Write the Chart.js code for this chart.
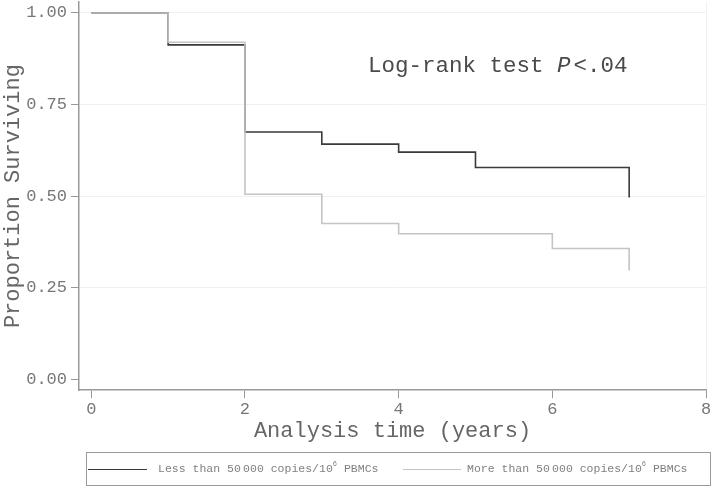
<!DOCTYPE html>
<html>
<head>
<meta charset="utf-8">
<script src="https://cdn.jsdelivr.net/npm/chart.js@4"></script>
<style>
  html, body { margin: 0; padding: 0; background: #fff; }
  #wrap { position: relative; width: 720px; height: 489px; }
  #legend {
    position: absolute; left: 86px; top: 452px; width: 623px; height: 32px;
    border: 1.5px solid #9a9a9a; font-family: "Liberation Mono", monospace;
    font-size: 11.5px; color: #808080;
  }
  .sw { position: absolute; top: 16px; height: 0; }
  .lb { position: absolute; top: 9px; white-space: nowrap; }
  .lb sup { font-size: 7px; vertical-align: 6px; line-height: 0; }
</style>
</head>
<body>
<div id="wrap">
  <canvas id="km" width="720" height="489"></canvas>
  <div id="legend"></div>
</div>
<script>
// Kaplan-Meier steps
var lowTimes  = [0, 1, 2, 3, 4, 5, 7];
var lowSurv   = [1.0, 0.913, 0.675, 0.642, 0.620, 0.578, 0.496];
var highTimes = [0, 1, 2, 3, 4, 6, 7];
var highSurv  = [1.0, 0.920, 0.505, 0.425, 0.397, 0.357, 0.297];

var seriesNames  = ["Less than 50\u2009000 copies/10<sup>6</sup> PBMCs", "More than 50\u2009000 copies/10<sup>6</sup> PBMCs"];
var seriesColors = ["#3a3a3a", "#c4c4c4"];

var xTicks = [0, 2, 4, 6, 8];
var yTicks = [0, 0.25, 0.5, 0.75, 1.0];

var annotation = { x: 3.6, y: 0.855, pre: "Log-rank test ", it: "P", post: "<.04" };

var mono = "'Liberation Mono', 'Courier New', monospace";

function pts(t, s) {
  return t.map(function(v, i) { return { x: v, y: s[i] }; });
}

// legend (html)
var leg = document.getElementById("legend");
var legPos = [{ line: [1, 60], text: 71 }, { line: [316, 374], text: 380 }];
seriesNames.forEach(function(name, i) {
  var sw = document.createElement("div");
  sw.className = "sw";
  sw.style.left = legPos[i].line[0] + "px";
  sw.style.width = (legPos[i].line[1] - legPos[i].line[0]) + "px";
  sw.style.borderTop = "1.6px solid " + seriesColors[i];
  leg.appendChild(sw);
  var lb = document.createElement("div");
  lb.className = "lb";
  lb.style.left = legPos[i].text + "px";
  lb.innerHTML = name;
  leg.appendChild(lb);
});

var notePlugin = {
  id: "note",
  afterDatasetsDraw: function(chart) {
    var c = chart.ctx, xs = chart.scales.x, ys = chart.scales.y;
    var x = xs.getPixelForValue(annotation.x), y = ys.getPixelForValue(annotation.y);
    c.save();
    c.fillStyle = "#4a4a4a";
    c.textBaseline = "middle";
    c.font = "22.5px " + mono;
    c.fillText(annotation.pre, x, y);
    x += c.measureText(annotation.pre).width;
    c.font = "italic 22.5px " + mono;
    c.fillText(annotation.it, x, y);
    x += c.measureText(annotation.it).width + 3;
    c.font = "22.5px " + mono;
    c.fillText(annotation.post, x, y);
    c.restore();
  }
};

new Chart(document.getElementById("km").getContext("2d"), {
  type: "line",
  data: {
    datasets: [{
      label: "Less than 50 000 copies/10^6 PBMCs",
      data: pts(lowTimes, lowSurv),
      borderColor: seriesColors[0],
      borderWidth: 1.6,
      stepped: "before",
      pointRadius: 0,
      fill: false,
      order: 2
    }, {
      label: "More than 50 000 copies/10^6 PBMCs",
      data: pts(highTimes, highSurv),
      borderColor: seriesColors[1],
      borderWidth: 1.6,
      stepped: "before",
      pointRadius: 0,
      fill: false,
      order: 1
    }]
  },
  options: {
    responsive: false,
    animation: false,
    layout: { padding: { left: 0, right: 14, top: 2, bottom: 39 } },
    plugins: { legend: { display: false }, tooltip: { enabled: false } },
    scales: {
      x: {
        type: "linear",
        min: -0.16, max: 8,
        afterBuildTicks: function(s) { s.ticks = xTicks.map(function(v) { return { value: v }; }); },
        border: { color: "#999", width: 1.5 },
        grid: {
          color: function(ctx) { return ctx.tick && ctx.tick.value === 8 ? "#f0f0f0" : "rgba(0,0,0,0)"; },
          tickColor: "#999", tickLength: 8, lineWidth: 1
        },
        ticks: { color: "#777", font: { family: mono, size: 17 }, padding: 1, maxRotation: 0 },
        title: { display: true, text: "Analysis time (years)", color: "#666",
                 font: { family: mono, size: 22 }, padding: { top: -3, bottom: 6 } }
      },
      y: {
        type: "linear",
        min: -0.03, max: 1.03,
        afterBuildTicks: function(s) { s.ticks = yTicks.map(function(v) { return { value: v }; }); },
        afterFit: function(s) { s.width = 79; s.paddingTop = 0; s.paddingBottom = 0; },
        border: { color: "#999", width: 1.5 },
        grid: {
          color: function(ctx) { return ctx.tick && ctx.tick.value === 0 ? "rgba(0,0,0,0)" : "#f0f0f0"; },
          tickColor: "#999", tickLength: 8, lineWidth: 1
        },
        ticks: { color: "#777", font: { family: mono, size: 17 }, padding: 4,
                 callback: function(v) { return v.toFixed(2); } },
        title: { display: true, text: "Proportion Surviving", color: "#666",
                 font: { family: mono, size: 22 }, padding: { top: 0, bottom: 0 } }
      }
    }
  },
  plugins: [notePlugin]
});
</script>
</body>
</html>
